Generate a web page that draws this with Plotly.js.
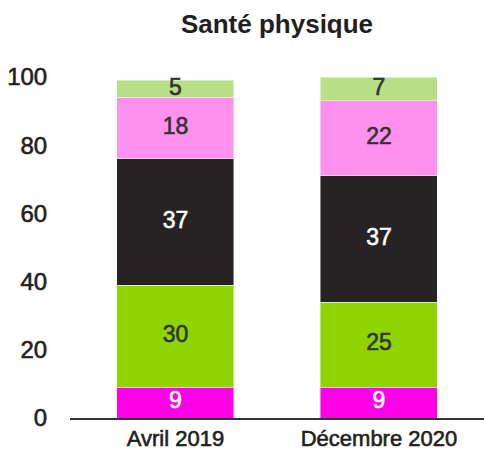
<!DOCTYPE html>
<html>
<head>
<meta charset="utf-8">
<script src="https://cdn.plot.ly/plotly-3.0.1.min.js"></script>
<style>html,body{margin:0;padding:0;background:#fff;}#chart{width:484px;height:452px;}</style>
</head>
<body>
<div id="chart"></div>
<script>
const categories = ["Avril 2019", "Décembre 2020"];
const seriesNames = ["s1", "s2", "s3", "s4", "s5"];
const s1 = [9, 9];
const s2 = [30, 25];
const s3 = [37, 37];
const s4 = [18, 22];
const s5 = [5, 7];
const yTicks = [0, 20, 40, 60, 80, 100];

const series = [s1, s2, s3, s4, s5];
const colors = ["#ff00e6", "#8fd400", "#272324", "#ff91ee", "#b8df88"];
const textColors = ["#ffffff", "#333333", "#ffffff", "#333333", "#333333"];
const FONT = "'Liberation Sans', Arial, Helvetica, sans-serif";

const traces = [];
series.forEach((vals, i) => {
  traces.push({
    type: "bar", x: categories, y: vals, name: seriesNames[i],
    marker: {color: colors[i], line: {color: "rgba(255,255,255,0.45)", width: 1}},
    hoverinfo: "skip", showlegend: false
  });
});
// labels at segment centres
const cum = categories.map(() => 0);
series.forEach((vals, i) => {
  const mids = vals.map((v, k) => { const m = cum[k] + v / 2; cum[k] += v; return m; });
  traces.push({
    type: "scatter", mode: "text", x: categories, y: mids,
    text: vals.map(String), textposition: "middle center",
    textfont: {family: FONT, size: 23, color: textColors[i]},
    hoverinfo: "skip", showlegend: false, cliponaxis: false
  });
});

const layout = {
  width: 484, height: 452,
  margin: {l: 70, r: 0, t: 77, b: 34},
  barmode: "stack", bargap: 0.425,
  paper_bgcolor: "#fff", plot_bgcolor: "#fff",
  font: {family: FONT, color: "#231f20"},
  title: {text: "<b>Santé physique</b>", x: 0.5, xref: "paper", y: 1 - 24 / 452, yref: "container",
          yanchor: "middle", xanchor: "center", font: {family: FONT, size: 26, color: "#231f20"}},
  xaxis: {range: [-0.518, 1.516], showline: true, linecolor: "#333333", linewidth: 1.5, showgrid: false, zeroline: false,
          ticks: "", tickfont: {family: FONT, size: 22, color: "#231f20"}, fixedrange: true},
  yaxis: {range: [0, 100], tickvals: yTicks, ticktext: yTicks.map(String), showgrid: false, zeroline: false,
          showline: false, ticks: "outside", ticklen: 17, tickcolor: "rgba(0,0,0,0)",
          tickfont: {family: FONT, size: 24, color: "#231f20"}, fixedrange: true}
};
Plotly.newPlot("chart", traces, layout, {staticPlot: true, displayModeBar: false}).then(gd => {
  // medium-weight look: thin stroke in the text's own colour
  gd.querySelectorAll(".xtick text, .ytick text, .textpoint text").forEach(t => {
    const f = t.style.fill || window.getComputedStyle(t).fill;
    t.style.stroke = f;
    t.style.strokeWidth = "0.6px";
  });
});
</script>
</body>
</html>
